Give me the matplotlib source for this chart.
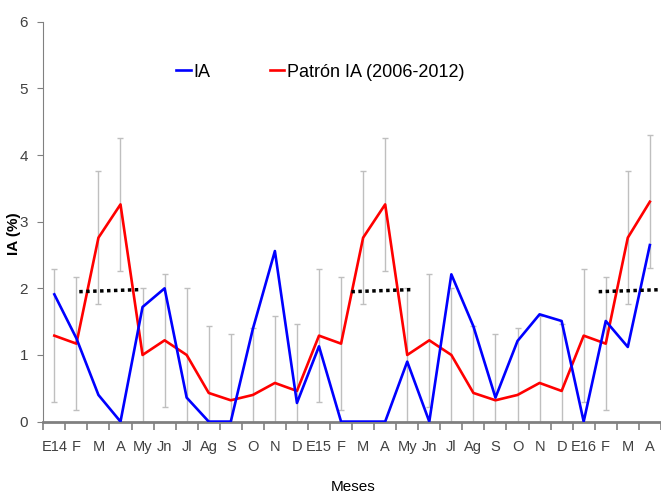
import matplotlib
matplotlib.use("Agg")
import matplotlib.pyplot as plt
import numpy as np

plt.rcParams['font.family'] = ['Liberation Sans', 'DejaVu Sans']

meses = ['E14', 'F', 'M', 'A', 'My', 'Jn', 'Jl', 'Ag', 'S', 'O', 'N', 'D',
         'E15', 'F', 'M', 'A', 'My', 'Jn', 'Jl', 'Ag', 'S', 'O', 'N', 'D',
         'E16', 'F', 'M', 'A']
ia = [1.91, 1.25, 0.40, 0.0, 1.72, 2.0, 0.36, 0.0, 0.0, 1.39, 2.56, 0.28,
      1.13, 0.0, 0.0, 0.0, 0.90, 0.0, 2.21, 1.43, 0.36, 1.21, 1.61, 1.51,
      0.0, 1.51, 1.12, 2.65]
patron = [1.29, 1.17, 2.76, 3.26, 1.0, 1.22, 1.0, 0.43, 0.32, 0.40, 0.58, 0.46,
          1.29, 1.17, 2.76, 3.26, 1.0, 1.22, 1.0, 0.43, 0.32, 0.40, 0.58, 0.46,
          1.29, 1.17, 2.76, 3.30]
desv = [1.0] * 28
# dotted reference segments (x positions in category units)
ref_x = [(1.13, 3.81), (13.47, 16.14), (24.68, 27.5)]
ref_y = (1.95, 1.98)

fig = plt.figure(figsize=(6.61, 4.96), dpi=100)
ax = fig.add_axes([0.0655, 0.150, 0.936, 0.806])

x = np.arange(len(meses))
ax.errorbar(x, patron, yerr=desv, fmt='none', ecolor='#bfbfbf', elinewidth=1.0,
            capsize=2, capthick=1.0, zorder=1)
ax.plot(x, ia, color='#0000ff', lw=1.9, label='IA', zorder=3)
ax.plot(x, patron, color='#ff0000', lw=1.9, label='Patrón IA (2006-2012)', zorder=2)
for x0, x1 in ref_x:
    ax.plot([x0, x1], ref_y, color='black', lw=2.5, ls=(0, (1, 1)), zorder=4)

ax.set_xlim(-0.5, len(meses) - 0.45)
ax.set_ylim(0, 6)
ax.set_yticks(range(7))
ax.set_xticks(x)
ax.set_xticklabels(meses)
ax.set_xticks(np.arange(-0.5, len(meses), 1.0), minor=True)
ax.tick_params(axis='x', which='major', length=0, pad=13, labelsize=10.5, labelcolor='#404040')
ax.tick_params(axis='x', which='minor', length=6, width=1.2, color='#808080', direction='out')
ax.tick_params(axis='y', length=4, color='#808080', labelsize=11, labelcolor='#404040', pad=7)
ax.spines['top'].set_visible(False)
ax.spines['right'].set_visible(False)
ax.spines['left'].set_color('#808080')
ax.spines['bottom'].set_color('#808080')
ax.spines['bottom'].set_linewidth(2)
ax.set_ylabel('IA (%)', fontsize=11, fontweight='bold')
ax.yaxis.set_label_coords(-0.036, 0.47)
ax.set_xlabel('Meses', fontsize=11)
ax.xaxis.set_label_coords(0.5, -0.145)

ax.legend(loc='upper left', bbox_to_anchor=(0.215, 0.895), ncol=2, frameon=False,
          fontsize=13, handlelength=0.8, handletextpad=0.15, columnspacing=3.3,
          borderaxespad=0, borderpad=0)

fig.savefig('out.png', dpi=100)
